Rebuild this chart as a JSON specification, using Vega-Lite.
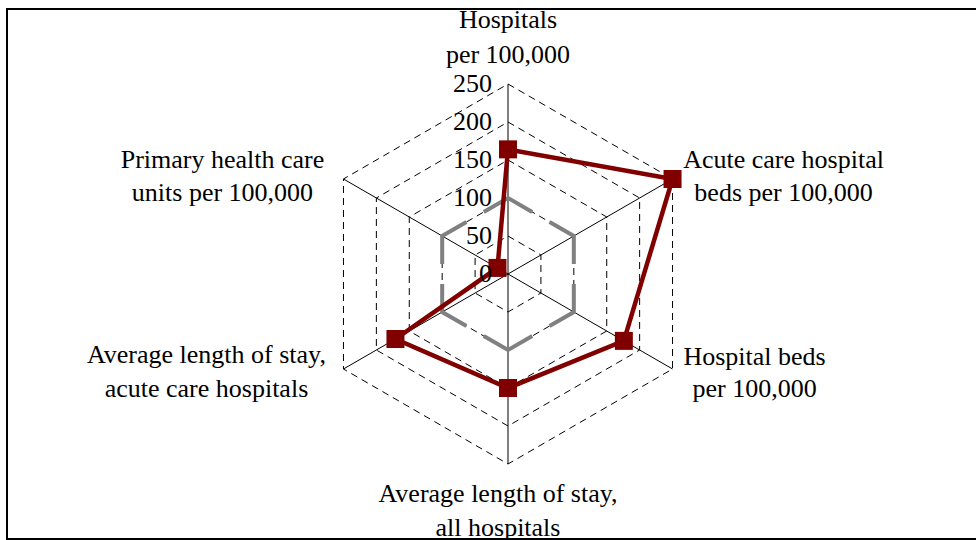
{
  "$schema": "https://vega.github.io/schema/vega-lite/v6.json",
  "width": 971,
  "height": 530,
  "autosize": {"type": "none"},
  "padding": {"left": 7, "top": 9, "right": -2, "bottom": 1},
  "background": "white",
  "config": {
    "view": {"stroke": "black", "strokeWidth": 2},
    "text": {"font": "Liberation Serif", "fontSize": 26, "color": "black"}
  },
  "datasets": {
    "indicators": [
      {"k": 0, "indicator": "Hospitals per 100,000", "label": "Hospitals\nper 100,000", "country": 164, "reference": 100},
      {"k": 1, "indicator": "Acute care hospital beds per 100,000", "label": "Acute care hospital\nbeds per 100,000", "country": 250, "reference": 100},
      {"k": 2, "indicator": "Hospital beds per 100,000", "label": "Hospital beds\nper 100,000", "country": 176, "reference": 100},
      {"k": 3, "indicator": "Average length of stay, all hospitals", "label": "Average length of stay,\nall hospitals", "country": 150, "reference": 100},
      {"k": 4, "indicator": "Average length of stay, acute care hospitals", "label": "Average length of stay,\nacute care hospitals", "country": 171, "reference": 100},
      {"k": 5, "indicator": "Primary health care units per 100,000", "label": "Primary health care\nunits per 100,000", "country": 16, "reference": 100}
    ],
    "levels": [
      {"level": 0, "k": [0, 1, 2, 3, 4, 5]},
      {"level": 50, "k": [0, 1, 2, 3, 4, 5]},
      {"level": 100, "k": [0, 1, 2, 3, 4, 5]},
      {"level": 150, "k": [0, 1, 2, 3, 4, 5]},
      {"level": 200, "k": [0, 1, 2, 3, 4, 5]},
      {"level": 250, "k": [0, 1, 2, 3, 4, 5]}
    ]
  },
  "encoding": {
    "x": {"field": "px", "type": "quantitative", "scale": {"domain": [-659.21, 618.42], "nice": false, "zero": false}, "axis": null},
    "y": {"field": "py", "type": "quantitative", "scale": {"domain": [-348.68, 348.68], "nice": false, "zero": false}, "axis": null}
  },
  "layer": [
    {
      "data": {"name": "levels"},
      "transform": [
        {"filter": "datum.level > 0"},
        {"flatten": ["k"]},
        {"calculate": "(90 - 60 * datum.k) * PI / 180", "as": "theta"},
        {"calculate": "datum.level * cos(datum.theta)", "as": "px"},
        {"calculate": "datum.level * sin(datum.theta)", "as": "py"}
      ],
      "mark": {"type": "line", "interpolate": "linear-closed", "color": "black", "strokeWidth": 1, "strokeDash": [7, 5]},
      "encoding": {
        "detail": {"field": "level", "type": "nominal"},
        "order": {"field": "k", "type": "quantitative"}
      }
    },
    {
      "data": {"name": "indicators"},
      "transform": [{"calculate": "(90 - 60 * datum.k) * PI / 180", "as": "theta"}],
      "layer": [
        {
          "transform": [
            {"calculate": "250 * cos(datum.theta)", "as": "px"},
            {"calculate": "250 * sin(datum.theta)", "as": "py"}
          ],
          "mark": {"type": "rule", "color": "black", "strokeWidth": 1},
          "encoding": {"x2": {"datum": 0}, "y2": {"datum": 0}}
        },
        {
          "transform": [
            {"calculate": "datum.reference * cos(datum.theta)", "as": "px"},
            {"calculate": "datum.reference * sin(datum.theta)", "as": "py"}
          ],
          "mark": {"type": "line", "interpolate": "linear-closed", "color": "#808080", "strokeWidth": 4, "strokeDash": [56, 20], "strokeDashOffset": 28},
          "encoding": {"order": {"field": "k", "type": "quantitative"}}
        },
        {
          "transform": [
            {"calculate": "datum.country * cos(datum.theta)", "as": "px"},
            {"calculate": "datum.country * sin(datum.theta)", "as": "py"}
          ],
          "layer": [
            {
              "mark": {"type": "line", "interpolate": "linear-closed", "color": "#800000", "strokeWidth": 4.5},
              "encoding": {"order": {"field": "k", "type": "quantitative"}}
            },
            {
              "mark": {"type": "point", "shape": "square", "filled": true, "size": 324, "color": "#800000", "opacity": 1}
            }
          ]
        },
        {
          "transform": [
            {"calculate": "250 * cos(datum.theta)", "as": "px"},
            {"calculate": "250 * sin(datum.theta)", "as": "py"}
          ],
          "encoding": {"text": {"field": "label", "type": "nominal"}},
          "layer": [
            {"transform": [{"filter": "datum.k == 0"}], "mark": {"type": "text", "align": "center", "baseline": "alphabetic", "lineBreak": "\n", "lineHeight": 35, "dx": 0, "dy": -56}},
            {"transform": [{"filter": "datum.k == 1"}], "mark": {"type": "text", "align": "center", "baseline": "alphabetic", "lineBreak": "\n", "lineHeight": 33, "dx": 111, "dy": -11}},
            {"transform": [{"filter": "datum.k == 2"}], "mark": {"type": "text", "align": "center", "baseline": "alphabetic", "lineBreak": "\n", "lineHeight": 32, "dx": 82, "dy": -4}},
            {"transform": [{"filter": "datum.k == 3"}], "mark": {"type": "text", "align": "center", "baseline": "alphabetic", "lineBreak": "\n", "lineHeight": 34, "dx": -10, "dy": 38}},
            {"transform": [{"filter": "datum.k == 4"}], "mark": {"type": "text", "align": "center", "baseline": "alphabetic", "lineBreak": "\n", "lineHeight": 34, "dx": -137, "dy": -6}},
            {"transform": [{"filter": "datum.k == 5"}], "mark": {"type": "text", "align": "center", "baseline": "alphabetic", "lineBreak": "\n", "lineHeight": 33, "dx": -121, "dy": -11}}
          ]
        }
      ]
    },
    {
      "data": {"name": "levels"},
      "transform": [
        {"calculate": "0", "as": "px"},
        {"calculate": "datum.level", "as": "py"}
      ],
      "mark": {"type": "text", "align": "right", "baseline": "middle", "dx": -16},
      "encoding": {"text": {"field": "level", "type": "quantitative"}}
    }
  ]
}
